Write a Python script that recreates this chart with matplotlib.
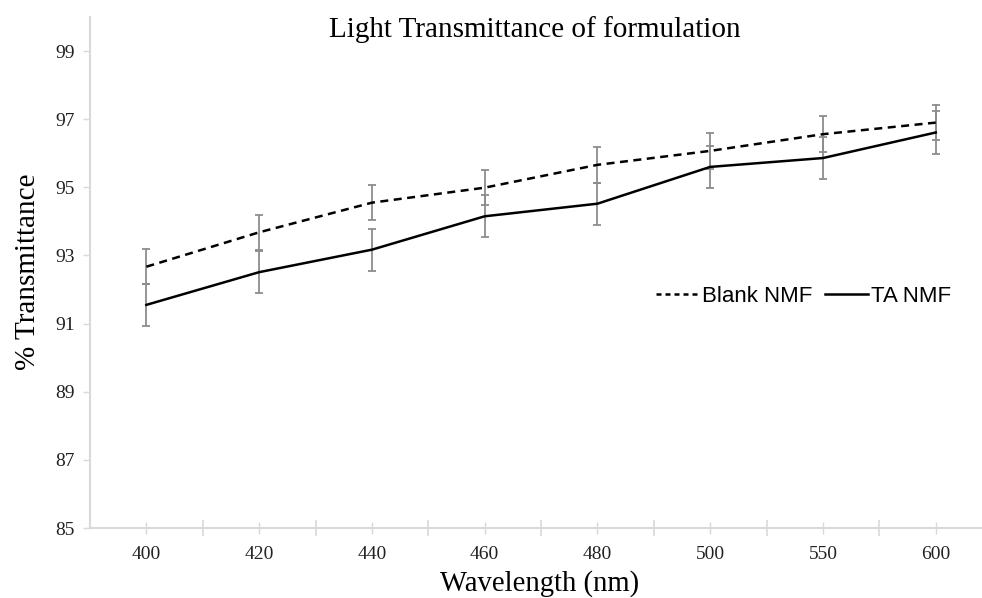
import matplotlib.pyplot as plt
import numpy as np

# wavelength categories (nm)
wavelengths = ['400', '420', '440', '460', '480', '500', '550', '600']

# % transmittance
blank_nmf = [92.67, 93.68, 94.55, 94.99, 95.66, 96.07, 96.56, 96.90]
blank_err = [0.52, 0.52, 0.52, 0.52, 0.52, 0.52, 0.52, 0.52]
ta_nmf = [91.55, 92.51, 93.17, 94.15, 94.52, 95.60, 95.86, 96.61]
ta_err = [0.62, 0.62, 0.62, 0.62, 0.62, 0.62, 0.62, 0.62]

serif = ['Liberation Serif', 'DejaVu Serif']
sans = ['Liberation Sans', 'DejaVu Sans']
axis_grey = '#d9d9d9'
err_grey = '#8c8c8c'

fig = plt.figure(figsize=(9.82, 5.98), dpi=100)
ax = fig.add_axes([90 / 982, 70 / 598, 892 / 982, 511 / 598])

x = np.arange(len(wavelengths))

ax.errorbar(x, blank_nmf, yerr=blank_err, fmt='none', ecolor=err_grey,
            elinewidth=1.3, capsize=2.6, capthick=1.3, zorder=2)
ax.errorbar(x, ta_nmf, yerr=ta_err, fmt='none', ecolor=err_grey,
            elinewidth=1.3, capsize=2.6, capthick=1.3, zorder=2)
ax.plot(x, blank_nmf, color='black', lw=1.8, linestyle=(0, (3.2, 2.2)),
        label='Blank NMF', zorder=3)
ax.plot(x, ta_nmf, color='black', lw=1.8, label='TA NMF', zorder=3)

ax.set_xlim(-0.5, 7.41)
ax.set_ylim(85, 100)

ax.set_xticks(x)
ax.set_xticklabels(wavelengths, fontfamily=serif, fontsize=14)
ax.set_xticks(np.arange(0.5, 7.0, 1.0), minor=True)
ax.set_yticks(np.arange(85, 100, 2))
ax.set_yticklabels([str(v) for v in range(85, 100, 2)], fontfamily=serif,
                   fontsize=14)

ax.tick_params(axis='x', which='major', direction='inout', length=8,
               width=1, color=axis_grey, pad=9, labelcolor='#222222')
ax.tick_params(axis='x', which='minor', direction='inout', length=12,
               width=1.2, color=axis_grey)
ax.tick_params(axis='y', which='major', direction='out', length=5,
               width=1, color=axis_grey, pad=6, labelcolor='#222222')

for side in ['top', 'right']:
    ax.spines[side].set_visible(False)
for side in ['left', 'bottom']:
    ax.spines[side].set_color(axis_grey)
    ax.spines[side].set_linewidth(1.5)

leg = ax.legend(loc='center', bbox_to_anchor=(0.80, 0.454), ncol=2,
                frameon=False, handlelength=1.9, handletextpad=0.15,
                columnspacing=0.6, prop={'family': sans, 'size': 16})
# shorter dashes in the legend sample, as in the original
leg.get_lines()[0].set_linestyle((0, (2.0, 1.6)))

fig.text(535 / 982, 1 - 30 / 598, 'Light Transmittance of formulation',
         fontfamily=serif, fontsize=21, ha='center', va='center')
fig.text(28 / 982, 0.545, '% Transmittance', fontfamily=serif, fontsize=21,
         rotation=90, ha='center', va='center')
fig.text(540 / 982, 1 - 584 / 598, 'Wavelength (nm)', fontfamily=serif,
         fontsize=20.6, ha='center', va='center')

fig.savefig('out.png', dpi=100)
